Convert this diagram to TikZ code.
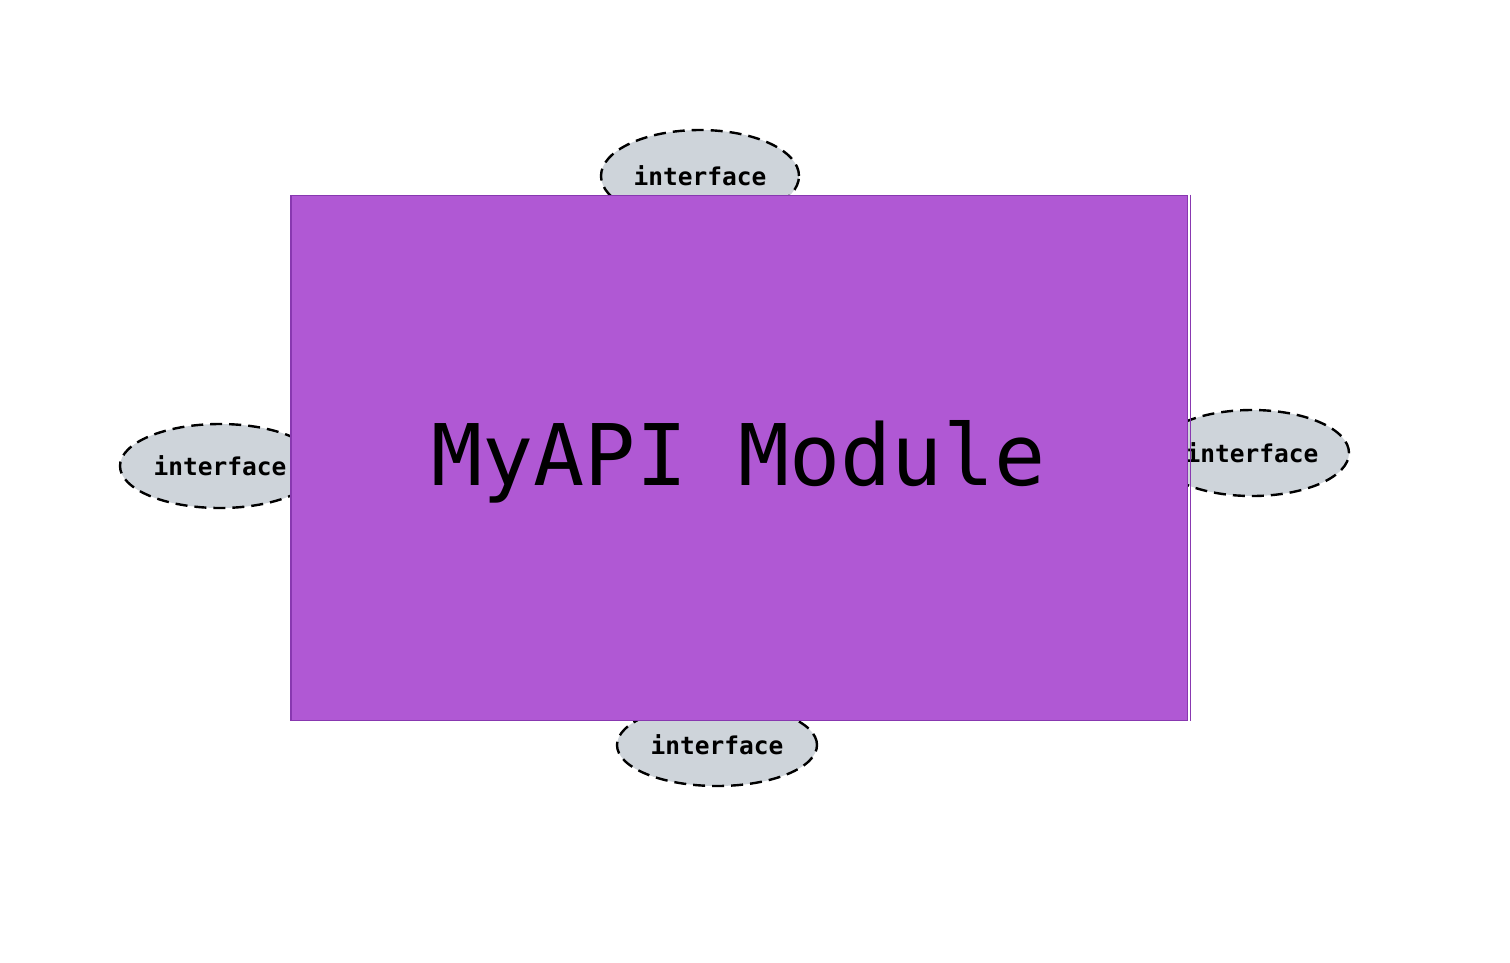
\documentclass[tikz,border=0pt]{standalone}
\usepackage{fontspec}
\setmonofont{DejaVu Sans Mono}
\usetikzlibrary{shapes.geometric,positioning}

\definecolor{modfill}{HTML}{B058D4}
\definecolor{modline}{HTML}{8838B0}
\definecolor{iffill}{HTML}{CED4DA}

\begin{document}
\begin{tikzpicture}[x=1pt,y=-1pt,
    iface/.style={ellipse,draw=black,dashed,dash pattern=on 12pt off 7pt,line width=2.4pt,fill=iffill,inner sep=0pt,font=\ttfamily\bfseries\fontsize{24.5}{28}\selectfont},
    module/.style={rectangle,draw=modline,line width=1pt,fill=modfill,inner sep=0pt,font=\ttfamily\fontsize{85}{96}\selectfont}]
	\useasboundingbox (0,0) rectangle (1510,962);

	% interfaces behind the module
	\node[iface,minimum width=198pt,minimum height=92pt] (if_top) at (700,176) {interface};
	\node[iface,minimum width=200pt,minimum height=84pt] (if_left) at (220,466) {interface};
	\node[iface,minimum width=194pt,minimum height=86pt] (if_right) at (1252,453) {interface};
	\node[iface,minimum width=200pt,minimum height=82pt] (if_bottom) at (717,745) {interface};

	% the module itself
	\node[module,minimum width=897pt,minimum height=525pt,text depth=10pt] (api) at (738.5,457.5) {MyAPI Module};
	\draw[modline,line width=0.6pt] ([xshift=3pt]api.north east) -- ([xshift=3pt]api.south east);
	\draw[modline,line width=0.6pt] ([xshift=2pt]api.south west) -- ([xshift=2pt]api.north west);
\end{tikzpicture}
\end{document}
